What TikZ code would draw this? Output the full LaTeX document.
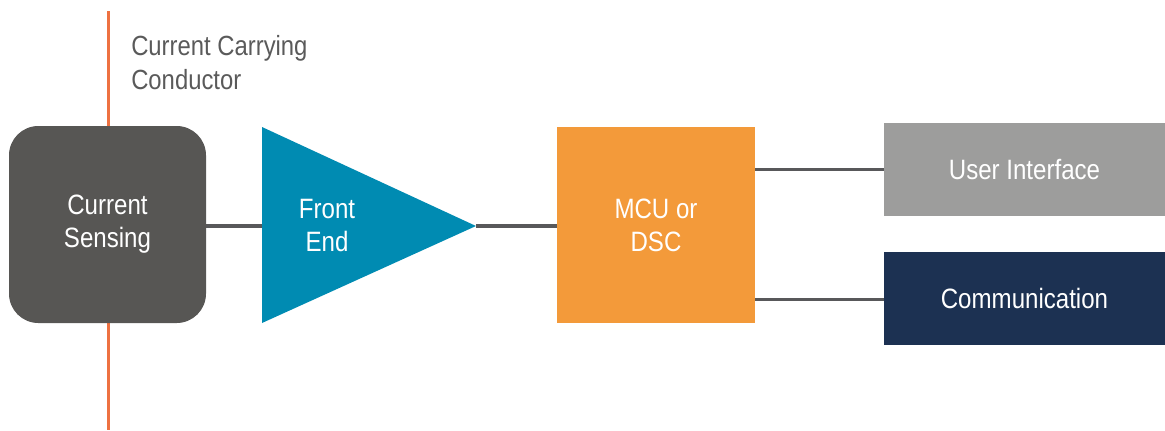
\documentclass[tikz,border=0pt]{standalone}
\usepackage{fontspec}
\setmainfont{Liberation Sans}[FakeStretch=0.86]
\definecolor{cond}{HTML}{EE7141}
\definecolor{sense}{HTML}{575654}
\definecolor{fe}{HTML}{008BB2}
\definecolor{mcu}{HTML}{F39A3A}
\definecolor{ui}{HTML}{9D9D9C}
\definecolor{comm}{HTML}{1C3152}
\definecolor{wire}{HTML}{58585A}
\definecolor{lbl}{HTML}{5A5A5A}
\begin{document}
\begin{tikzpicture}[x=0.75pt,y=-0.75pt,
  blk/.style={inner sep=0pt,text=white,align=center,font=\fontsize{21}{24.75}\selectfont},
  wireline/.style={draw=wire,line width=2.8pt}]
\useasboundingbox (0,0) rectangle (1165,430);
% conductor
\coordinate (ctop) at (108.5,11);
\coordinate (cbot) at (108.5,430);
\draw[cond,line width=2.6pt] (ctop) -- (cbot);
\node[anchor=north west,inner sep=0pt,text=lbl,align=left,font=\fontsize{20.8}{25.5}\selectfont] (lab) at (131,35) {Current Carrying\\Conductor};
% blocks
\node[blk,fill=sense,rounded corners=22pt,minimum width=197*0.75pt,minimum height=197*0.75pt] (cs) at (107.5,224.5) {Current\\Sensing};
\fill[fe] (262,127) -- (476,226) -- (262,323) -- cycle;
\coordinate (fein) at (262,226);
\coordinate (feout) at (476,226);
\node[blk] (fet) at (327,225) {Front\\End};
\node[blk,fill=mcu,minimum width=198*0.75pt,minimum height=196*0.75pt] (mcu) at (656,225) {MCU or\\DSC};
\node[blk,fill=ui,minimum width=281*0.75pt,minimum height=93*0.75pt] (ui) at (1024.5,169.5) {User Interface};
\node[blk,fill=comm,minimum width=281*0.75pt,minimum height=93*0.75pt] (com) at (1024.5,298.5) {Communication};
% connectors
\draw[wireline] (cs.east |- fein) -- (fein);
\draw[wireline] (feout) -- (mcu.west |- feout);
\draw[wireline] (mcu.east |- ui.west) -- (ui.west);
\draw[wireline] (mcu.east |- 0,299.5) -- (com.west |- 0,299.5);
\end{tikzpicture}
\end{document}
